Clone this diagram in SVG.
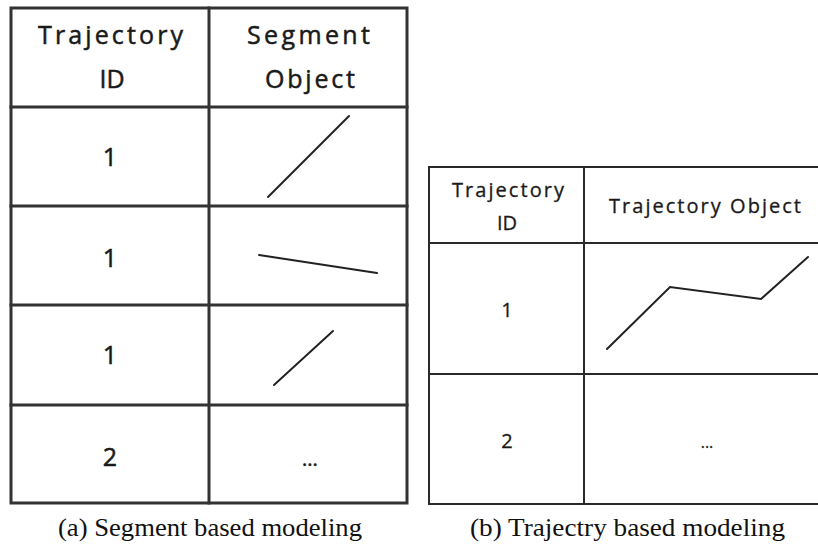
<svg xmlns="http://www.w3.org/2000/svg" width="818" height="551" viewBox="0 0 818 551">
  <style>
    .grid-a { stroke: #333; stroke-width: 3; fill: none; stroke-linecap: square; }
    .grid-b { stroke: #2a2a2a; stroke-width: 2; fill: none; stroke-linecap: square; }
    .shape { stroke: #222; stroke-width: 2; fill: none; stroke-linecap: round; stroke-linejoin: miter; }
    .cell { font-family: "Open Sans", "Lato", sans-serif; fill: #1a1a1a; text-anchor: middle; }
    .big { font-size: 25px; stroke: #1a1a1a; stroke-width: 0.5; }
    .small { font-size: 20px; stroke: #1a1a1a; stroke-width: 0.3; }
    .caption { font-family: "Liberation Serif", "DejaVu Serif", serif; font-size: 25px; fill: #111; }
  </style>

  <rect width="818" height="551" fill="#fff"/>

  <!-- (a) segment table -->
  <g id="table-a">
    <g class="grid-a">
      <rect x="11" y="8" width="396" height="495"/>
      <line x1="209" y1="8" x2="209" y2="503"/>
      <line x1="11" y1="107" x2="407" y2="107"/>
      <line x1="11" y1="206" x2="407" y2="206"/>
      <line x1="11" y1="305" x2="407" y2="305"/>
      <line x1="11" y1="405" x2="407" y2="405"/>
    </g>
    <g class="cell big">
      <text x="110.5" y="44" textLength="145" lengthAdjust="spacing">Trajectory</text>
      <text x="112" y="88">ID</text>
      <text x="308.5" y="44" textLength="123" lengthAdjust="spacing">Segment</text>
      <text x="310" y="88" textLength="90" lengthAdjust="spacing">Object</text>
      <text x="110" y="166">1</text>
      <text x="110" y="267">1</text>
      <text x="110" y="364">1</text>
      <text x="110" y="466">2</text>
      <text x="310" y="466" font-size="20">...</text>
    </g>
    <g class="shape">
      <line x1="268" y1="197" x2="349" y2="116"/>
      <line x1="259" y1="255" x2="377" y2="273"/>
      <line x1="274" y1="385" x2="333" y2="331"/>
    </g>
  </g>

  <!-- (b) trajectory table -->
  <g id="table-b">
    <g class="grid-b">
      <line x1="429" y1="167" x2="818" y2="167"/>
      <line x1="429" y1="167" x2="429" y2="504"/>
      <line x1="584" y1="167" x2="584" y2="504"/>
      <line x1="429" y1="243" x2="818" y2="243"/>
      <line x1="429" y1="374" x2="818" y2="374"/>
      <line x1="429" y1="504" x2="818" y2="504"/>
    </g>
    <g class="cell small">
      <text x="508" y="197" textLength="112" lengthAdjust="spacing">Trajectory</text>
      <text x="507" y="230">ID</text>
      <text x="705" y="213" textLength="192" lengthAdjust="spacing">Trajectory Object</text>
      <text x="507" y="317">1</text>
      <text x="507" y="448">2</text>
      <text x="707" y="448" font-size="16">...</text>
    </g>
    <polyline class="shape" points="607,349 670,287 761,299 808,257"/>
  </g>

  <!-- captions -->
  <g id="captions">
    <text class="caption" x="58" y="536" textLength="304" lengthAdjust="spacingAndGlyphs">(a) Segment based modeling</text>
    <text class="caption" x="470" y="536" textLength="315" lengthAdjust="spacingAndGlyphs">(b) Trajectry based modeling</text>
  </g>
</svg>
